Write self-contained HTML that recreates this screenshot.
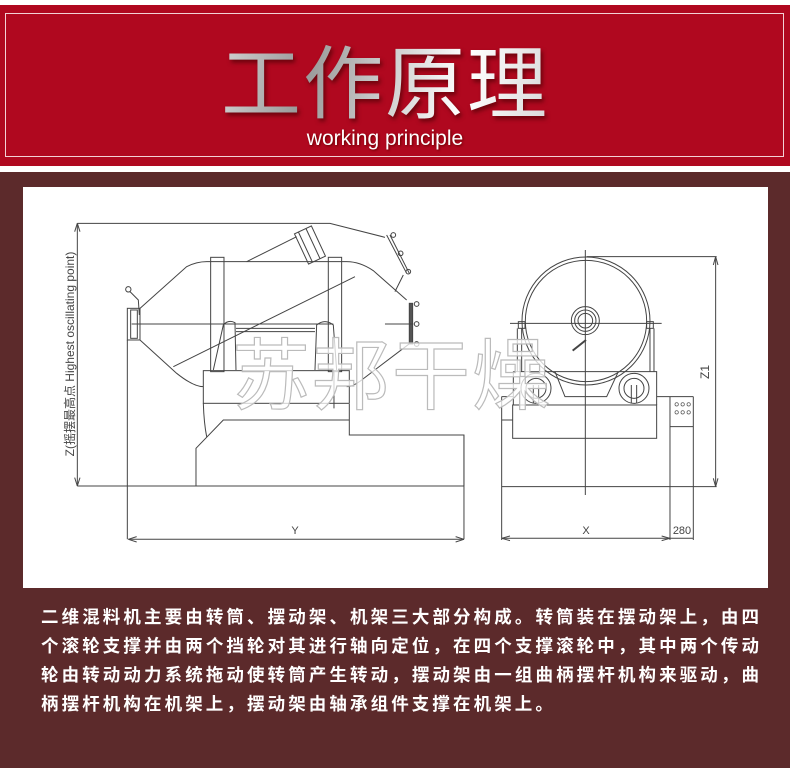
<!DOCTYPE html>
<html><head><meta charset="utf-8"><style>
body{margin:0;width:790px;height:768px;overflow:hidden;background:#fff;font-family:"Liberation Sans","Noto Sans CJK SC",sans-serif;position:relative}
.red{position:absolute;left:0;top:5px;width:790px;height:161px;background:#b0081f}
.bd{position:absolute;left:5px;top:13px;width:777px;height:142px;border:1px solid #f3d0d5}
.title{position:absolute;left:-10px;width:790px;top:28px;text-align:center;font:400 80px "Noto Sans CJK SC",sans-serif;letter-spacing:2px;line-height:100px;background:linear-gradient(100deg,#ddd 0%,#fff 20%,#999 40%,#fff 60%,#bbb 80%,#fff 100%);-webkit-background-clip:text;background-clip:text;color:transparent;filter:drop-shadow(2px 3px 2px rgba(60,0,0,.6))}
.sub{position:absolute;left:-10px;width:790px;top:127px;text-align:center;color:#fff;font:21px "Liberation Sans",sans-serif;text-shadow:1px 1px 2px #600}
.brown{position:absolute;left:0;top:172px;width:790px;height:596px;background:#5c2a2b}
.panel{position:absolute;left:23px;top:187px;width:745px;height:401px;background:#fff}
.txt{position:absolute;left:41px;top:602px;width:718px;color:#fff;font:bold 17.5px "Noto Sans CJK SC",sans-serif;line-height:29px}
.txt div{text-align:justify;text-align-last:justify;white-space:nowrap}
.txt div.l{text-align-last:left}
svg{position:absolute;left:0;top:0}
</style></head><body>
<div class="red"></div><div class="bd"></div>
<div class="title">工作原理</div>
<div class="sub">working principle</div>
<div class="brown"></div><div class="panel"></div>
<svg width="790" height="768" viewBox="0 0 790 768">
<g transform="translate(60,200) scale(0.3333)" fill="none" stroke="#444" stroke-width="3">
<path d="M52,70H810L975,112M52,858H1212M205,1018H1212M52,70V858M202,420V1018M1212,705V1018"/>
<path d="M52,70l-8,25M52,70l8,25M52,858l-8,-25M52,858l8,-25M205,1018l25,-8M205,1018l25,8M1212,1018l-25,-8M1212,1018l-25,8"/>
<path d="M240,325L380,200Q410,185 440,185H860Q900,185 940,212L1040,300M1050,430L905,540Q880,560 860,560M430,560Q400,560 350,520L240,420"/>
<rect x="202" y="325" width="38" height="95"/>
<rect x="212" y="330" width="20" height="85"/>
<circle cx="205" cy="268" r="8"/>
<path d="M210,275L235,300L238,345"/>
<rect x="452" y="172" width="40" height="343"/><rect x="805" y="172" width="40" height="343"/>
<path d="M560,185L710,110"/>
<g transform="rotate(-25 750 135)"><rect x="722" y="85" width="56" height="100"/><path d="M735,85V185M760,85V185"/></g>
<path d="M980,105L1040,220M990,105L1048,220M1030,225L1005,275"/>
<circle cx="1000" cy="105" r="7"/><circle cx="1022" cy="160" r="7"/><circle cx="1045" cy="215" r="7"/>
<rect x="1048" y="310" width="10" height="122" fill="#555"/>
<circle cx="1070" cy="312" r="7"/><circle cx="1070" cy="372" r="7"/><circle cx="1070" cy="432" r="7"/>
<path d="M975,372H1060M215,372H820M340,500L885,230"/>
<path d="M460,510L490,375Q505,358 525,368L528,510M765,510L770,375Q795,355 820,375L830,510M528,385H765M528,395H765"/>
<rect x="430" y="512" width="438" height="98"/>
<path d="M430,610Q432,670 440,710M868,612V705H1212V858M408,858V745L490,660H868M822,510V625"/>
</g>
<g transform="translate(480,220) scale(0.3333)" fill="none" stroke="#444" stroke-width="3">
<circle cx="318" cy="303" r="192"/><circle cx="318" cy="303" r="182"/>
<path d="M316,90V825M90,310H545"/>
<circle cx="316" cy="302" r="42"/><circle cx="316" cy="302" r="32"/><circle cx="316" cy="302" r="22"/>
<path d="M278,392L318,360" stroke-width="6"/>
<rect x="115" y="305" width="20" height="20"/><rect x="500" y="305" width="20" height="20"/>
<path d="M125,325V455M510,325V455M112,325V455M522,325V455"/>
<path d="M100,455H530V555M100,455V555M225,455L255,530H380L415,455"/>
<rect x="98" y="555" width="432" height="100"/>
<circle cx="168" cy="505" r="45"/><circle cx="168" cy="505" r="30"/><circle cx="462" cy="505" r="45"/><circle cx="462" cy="505" r="30"/>
<path d="M160,495V550M176,495V550M454,495V550M470,495V550"/>
<path d="M65,530H100M530,530H570M65,530V960M65,600H98M570,530V960M640,530V960M570,530H640M570,620H640M65,800H710M320,110H710M707,110V800M65,955H570M570,955H640"/>
<path d="M707,110l-7,25M707,110l7,25M707,800l-7,-25M707,800l7,-25M65,955l25,-7M65,955l25,7M570,955l-25,-7M570,955l-25,7"/>
<g stroke-width="2"><circle cx="590" cy="553" r="5"/><circle cx="608" cy="553" r="5"/><circle cx="626" cy="553" r="5"/><circle cx="590" cy="577" r="5"/><circle cx="608" cy="577" r="5"/><circle cx="626" cy="577" r="5"/></g>
</g>
<g font-family="Liberation Sans,Noto Sans CJK SC,sans-serif" font-size="11" fill="#444">
<text x="295" y="534" text-anchor="middle">Y</text>
<text x="586" y="534" text-anchor="middle">X</text>
<text x="682" y="534" text-anchor="middle">280</text>
<text transform="translate(709,372) rotate(-90)" text-anchor="middle" font-size="12">Z1</text>
<text transform="translate(74,354) rotate(-90)" text-anchor="middle" font-size="12">Z(摇摆最高点 Highest oscillating point)</text>
</g>
<text x="392" y="403" text-anchor="middle" font-family="Noto Sans CJK SC,sans-serif" font-size="78" fill="#fff" fill-opacity="0.75" stroke="#bbb" stroke-width="1.2" letter-spacing="2">苏邦干燥</text>
</svg>
<div class="txt">
<div>二维混料机主要由转筒、摆动架、机架三大部分构成。转筒装在摆动架上，由四</div>
<div>个滚轮支撑并由两个挡轮对其进行轴向定位，在四个支撑滚轮中，其中两个传动</div>
<div>轮由转动动力系统拖动使转筒产生转动，摆动架由一组曲柄摆杆机构来驱动，曲</div>
<div class="l" style="letter-spacing:3.1px">柄摆杆机构在机架上，摆动架由轴承组件支撑在机架上。</div>
</div>
</body></html>
